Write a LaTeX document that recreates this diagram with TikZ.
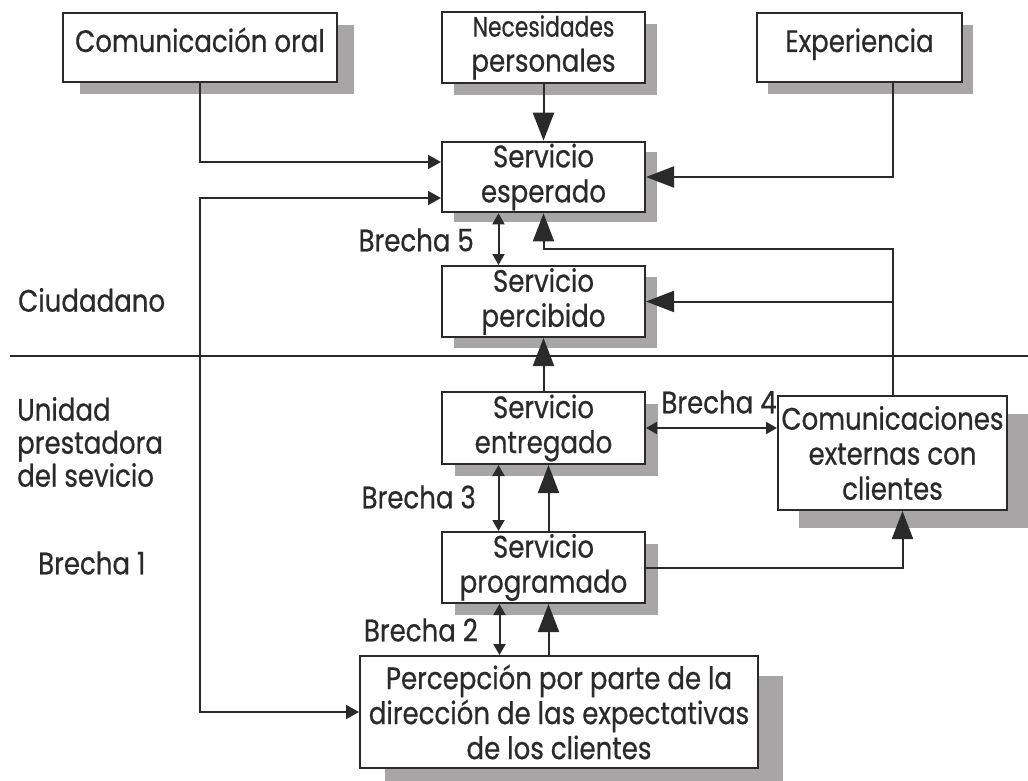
\documentclass[tikz,border=0pt]{standalone}
\usepackage{fontspec}
\setmainfont[FakeStretch=0.84,FakeBold=0.6]{Poppins}
\usetikzlibrary{arrows.meta,shadows}
\definecolor{inkgray}{HTML}{2B2A2B}
\definecolor{shadowgray}{HTML}{A7A5A6}
\tikzset{
  boxshadow/.style 2 args={drop shadow={shadow xshift=#1, shadow yshift=-#2,
      fill=shadowgray, opacity=1}},
  box/.style={draw=inkgray, fill=white, line width=2pt, align=center,
      inner sep=2pt, text=inkgray},
  oneline/.style={text height=37pt, text depth=28pt},
  link/.style={draw=inkgray, line width=2pt},
  bigtip/.style={-{Triangle[length=28pt,width=21pt]}},
  smalltip/.style={-{Triangle[length=13pt,width=14pt]}},
  gaptip/.style={{Triangle[length=11pt,width=12pt]}-{Triangle[length=11pt,width=12pt]}},
  looptip/.style={{Triangle[length=13pt,width=14pt]}-{Triangle[length=13pt,width=14pt]}},
  side/.style={text=inkgray, inner sep=0pt}
}
\begin{document}
\begin{tikzpicture}[x=1pt, y=-1pt, font=\fontsize{31}{35}\selectfont]
\useasboundingbox (0,0) rectangle (1028,781);

% separator between the two zones
    \coordinate (sepL) at (10,356);
    \coordinate (sepR) at (1028,356);
    \draw[link] (sepL) -- (sepR);

% inputs
    \node[box, oneline, boxshadow={17pt}{12pt}, minimum width=274pt] (oral) at (200,47.5) {Comunicación oral};
    \node[box, boxshadow={12pt}{12pt}, minimum width=203pt, minimum height=71pt] (nec) at (543.5,47.5)
        {{\fontsize{28}{37}\selectfont\addfontfeature{FakeStretch=0.78} Necesidades}\\personales};
    \node[box, oneline, boxshadow={11pt}{12pt}, minimum width=205pt] (exp) at (859.5,47.5) {Experiencia};

% citizen side
    \node[box, boxshadow={12pt}{10pt}, minimum width=203pt, minimum height=70pt] (esp) at (543.5,177) {Servicio\\esperado};
    \node[box, boxshadow={12pt}{11pt}, minimum width=203pt, minimum height=71pt] (perc) at (543.5,301.5) {Servicio\\percibido};

% provider side
    \node[box, boxshadow={13pt}{12pt}, minimum width=203pt, minimum height=72pt] (entr) at (543.5,428) {Servicio\\entregado};
    \node[box, boxshadow={13pt}{12pt}, minimum width=203pt, minimum height=71pt] (prog) at (543.5,567.5) {Servicio\\programado};
    \node[box, boxshadow={21pt}{18pt}, minimum width=229pt, minimum height=114pt] (com) at (892.5,453)
        {Comunicaciones\\externas con\\clientes};
    \node[box, boxshadow={25pt}{20pt}, minimum width=398pt, minimum height=112pt] (dir) at (559,712)
        {Percepción por parte de la\\dirección de las expectativas\\de los clientes};

% zone and gap labels
    \node[side, anchor=west] (ciud) at (18,300) {Ciudadano};
    \node[side, anchor=west, align=left, font=\fontsize{31}{33}\selectfont] (unid) at (17,442)
        {Unidad\\prestadora\\del sevicio};
    \node[side, anchor=west] (b1) at (38,563) {Brecha 1};
    \node[side, anchor=east] (b5) at (474,240) {Brecha 5};
    \node[side] (b4) at (719,402) {Brecha 4};
    \node[side, anchor=east] (b3) at (476,497) {Brecha 3};
    \node[side, anchor=east] (b2) at (478,630) {Brecha 2};

% connectors
    \coordinate (turn) at (892.5,249);
    \draw[link, smalltip] (oral.south) |- ([yshift=15pt]esp.west);
    \draw[link, looptip] ([yshift=-21pt]esp.west) -| (oral.south |- dir.west) -- (dir.west);
    \draw[link, bigtip] (nec.south) -- (esp.north);
    \draw[link, bigtip] (com.north |- exp.south) |- (esp.east);
    \draw[link, bigtip] (com.north) -- (turn) -| (esp.south);
    \draw[link, bigtip] (com.north |- perc.east) -- (perc.east);

    \draw[link, gaptip] ([xshift=-45pt]esp.south) -- ([xshift=-45pt]perc.north);
    \draw[link, bigtip] (entr.north) -- (perc.south);
    \draw[link, gaptip] (entr.east) -- (entr.east -| com.west);
    \draw[link, gaptip] ([xshift=-45pt]entr.south) -- ([xshift=-45pt]prog.north);
    \draw[link, bigtip] ([xshift=5pt]prog.north) -- ([xshift=5pt]entr.south);
    \draw[link, bigtip] (prog.east) -| ([xshift=10pt]com.south);
    \draw[link, gaptip] ([xshift=-44pt]prog.south) -- ([xshift=-44pt]prog.south |- dir.north);
    \draw[link, bigtip] ([xshift=5pt]prog.south |- dir.north) -- ([xshift=5pt]prog.south);
\end{tikzpicture}
\end{document}
